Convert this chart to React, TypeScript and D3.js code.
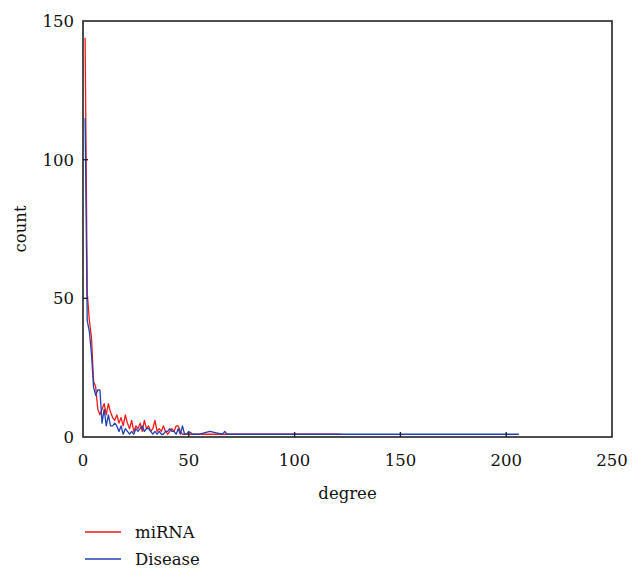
import React from 'react';
import * as d3 from 'd3';

// degree distribution
const mirnaDegree = [1, 2, 3, 4, 5, 6, 7, 8, 9, 10, 11, 12, 13, 14, 15, 16, 17, 18, 19, 20, 21, 22, 23, 24, 25, 26, 27, 28, 29, 30, 31, 32, 33, 34, 35, 36, 37, 38, 39, 40, 41, 42, 43, 44, 45, 46, 47, 48, 50, 52, 55, 58, 62, 67, 75, 90, 122];
const mirnaCount = [144, 52, 42, 36, 20, 18, 10, 8, 10, 12, 8, 12, 9, 7, 6, 8, 5, 7, 4, 8, 5, 3, 6, 2, 4, 3, 5, 2, 6, 3, 4, 2, 3, 6, 2, 3, 2, 4, 2, 1, 2, 3, 2, 4, 4, 2, 1, 1, 1, 1, 1, 1, 1, 1, 1, 1, 1];

const diseaseDegree = [1, 2, 3, 4, 5, 6, 7, 8, 9, 10, 11, 12, 13, 14, 15, 16, 17, 18, 19, 20, 21, 22, 23, 24, 25, 26, 27, 28, 29, 30, 31, 32, 33, 34, 35, 36, 37, 38, 39, 40, 41, 42, 43, 44, 45, 46, 47, 48, 49, 50, 52, 55, 60, 63, 66, 67, 68, 80, 100, 150, 206];
const diseaseCount = [115, 42, 38, 30, 18, 15, 17, 17, 5, 10, 4, 8, 4, 4, 5, 4, 2, 4, 1, 3, 2, 1, 2, 1, 3, 2, 3, 4, 2, 3, 3, 2, 1, 2, 1, 2, 1, 1, 2, 2, 3, 2, 2, 1, 3, 1, 4, 1, 1, 2, 1, 1, 2, 1.5, 1, 2, 1, 1, 1, 1, 1];

const xTicks = [0, 50, 100, 150, 200, 250];
const yTicks = [0, 50, 100, 150];

const seriesNames = ['miRNA', 'Disease'];
const seriesColors = ['#f01818', '#2040b0'];

const W = 641;
const H = 569;
const margin = { left: 83, right: 29, top: 21, bottom: 132 };
const textStyle = {
  fontFamily: "'DejaVu Serif', 'Liberation Serif', 'Noto Serif', serif",
  fontSize: '16.5px',
};

export default function App() {
  const x = d3.scaleLinear().domain([0, 250]).range([margin.left, W - margin.right]);
  const y = d3.scaleLinear().domain([0, 150]).range([H - margin.bottom, margin.top]);

  const line = d3
    .line<[number, number]>()
    .x(d => x(d[0]))
    .y(d => y(d[1]));

  const series = [
    mirnaDegree.map((d, i) => [d, mirnaCount[i]] as [number, number]),
    diseaseDegree.map((d, i) => [d, diseaseCount[i]] as [number, number]),
  ];

  const x0 = x(0), x1 = x(250), y0 = y(0), y1 = y(150);

  return (
    <svg
      width={W}
      height={H}
      style={{ position: 'absolute', left: 0, top: 0, background: '#fff' }}
    >
      {series.map((pts, i) => (
        <path key={i} d={line(pts) || ''} fill="none" stroke={seriesColors[i]} strokeWidth={1.3} strokeLinejoin="round" />
      ))}

      {/* frame */}
      <rect x={x0} y={y1} width={x1 - x0} height={y0 - y1} fill="none" stroke="#222" strokeWidth={1.6} />

      {xTicks.map(t => (
        <g key={'x' + t}>
          {t > 0 && t < 250 && <line x1={x(t)} x2={x(t)} y1={y0} y2={y0 - 5} stroke="#222" strokeWidth={1.4} />}
          <text x={x(t)} y={y0 + 29} textAnchor="middle" style={textStyle} fill="#111">{t}</text>
        </g>
      ))}

      {yTicks.map(t => (
        <g key={'y' + t}>
          {t > 0 && t < 150 && <line x1={x0} x2={x0 + 5} y1={y(t)} y2={y(t)} stroke="#222" strokeWidth={1.4} />}
          <text x={x0 - 9} y={y(t) + 6} textAnchor="end" style={textStyle} fill="#111">{t}</text>
        </g>
      ))}

      <text x={(x0 + x1) / 2} y={y0 + 62} textAnchor="middle" style={textStyle} fill="#111">degree</text>
      <text transform={`translate(26,${(y0 + y1) / 2}) rotate(-90)`} textAnchor="middle" style={textStyle} fill="#111">count</text>

      {seriesNames.map((name, i) => (
        <g key={name} transform={`translate(85,${532 + i * 27})`}>
          <line x1={0} x2={36} y1={0} y2={0} stroke={seriesColors[i]} strokeWidth={1.3} />
          <text x={50} y={6} style={textStyle} fill="#111">{name}</text>
        </g>
      ))}
    </svg>
  );
}
